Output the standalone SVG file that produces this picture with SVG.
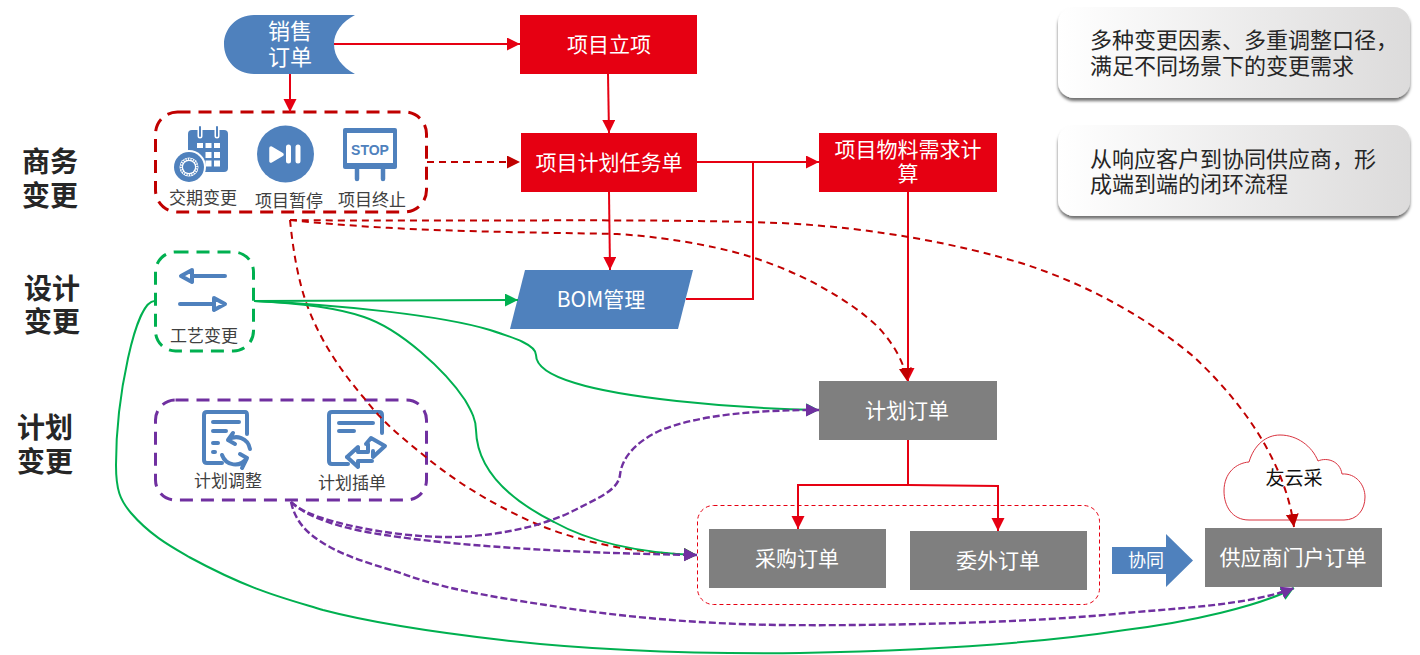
<svg xmlns="http://www.w3.org/2000/svg" width="1420" height="655" viewBox="0 0 1420 655">
<style>
text{font-family:"Noto Sans CJK SC","Noto Sans",sans-serif;text-anchor:middle}
.w{fill:#fff;font-size:21px}
.lab{fill:#404040;font-size:17px}
.side{fill:#262626;font-size:28px;font-weight:700}
.note{fill:#262626;font-size:22px;text-anchor:start}
.red{fill:#e60012}.gray{fill:#7f7f7f}.blue{fill:#4f81bd}
.ln{fill:none;stroke-width:2}
.rs{stroke:#e60012;marker-end:url(#mr)}
.rd{stroke:#c00000;stroke-dasharray:7 5;marker-end:url(#md)}
.gs{stroke:#00b050;marker-end:url(#mg)}
.pd{stroke:#7030a0;stroke-width:2.400;stroke-dasharray:7 3;marker-end:url(#mp)}
.box{fill:none;stroke-width:3;stroke-dasharray:13 8}
.ic{fill:none;stroke:#4f81bd;stroke-width:4;stroke-linecap:round;stroke-linejoin:round}
</style>
<defs>
<marker id="mr" markerUnits="userSpaceOnUse" markerWidth="14" markerHeight="14" refX="13" refY="6.500" orient="auto"><path d="M0 0L13 6.500L0 13z" fill="#e60012"/></marker>
<marker id="md" markerUnits="userSpaceOnUse" markerWidth="14" markerHeight="14" refX="13" refY="6.500" orient="auto"><path d="M0 0L13 6.500L0 13z" fill="#c00000"/></marker>
<marker id="mg" markerUnits="userSpaceOnUse" markerWidth="14" markerHeight="14" refX="13" refY="6.500" orient="auto"><path d="M0 0L13 6.500L0 13z" fill="#00b050"/></marker>
<marker id="mp" markerUnits="userSpaceOnUse" markerWidth="14" markerHeight="14" refX="13" refY="6.500" orient="auto"><path d="M0 0L13 6.500L0 13z" fill="#7030a0"/></marker>
<linearGradient id="ng"><stop offset="0" stop-color="#fff"/><stop offset="1" stop-color="#dcdbdb"/></linearGradient>
<filter id="sh" x="-5%" y="-10%" width="110%" height="125%"><feDropShadow dx="0" dy="3" stdDeviation="1.500" flood-color="#000" flood-opacity=".55"/></filter>
</defs>

<g id="sales-order"><path class="blue" d="M254 15H355C342 22 334 32 334 44C334 57 342 67 355 74H254C236 74 224 60 224 44C224 29 236 15 254 15z"/><text x="290" y="39" fill="#fff" font-size="22">销售</text><text x="290" y="65" fill="#fff" font-size="22">订单</text></g>
<g id="project-init"><rect class="red" x="520" y="15" width="177" height="59"/><text class="w" x="609" y="52">项目立项</text></g>
<g id="project-task"><rect class="red" x="521" y="133" width="176" height="59"/><text class="w" x="609" y="170">项目计划任务单</text></g>
<g id="mrp"><rect class="red" x="819" y="133" width="178" height="59"/><text class="w" x="908" y="157">项目物料需求计</text><text class="w" x="908" y="181">算</text></g>
<g id="bom"><path class="blue" d="M525 270H693L678 329H510z"/><text class="w" x="601" y="307">BOM管理</text></g>
<g id="plan-order"><rect class="gray" x="819" y="381" width="178" height="59"/><text class="w" x="907" y="418">计划订单</text></g>
<g id="purchase-group"><rect x="697.500" y="505.500" width="402" height="99" rx="16" fill="none" stroke="#e60012" stroke-dasharray="4 3"/></g>
<g id="purchase"><rect class="gray" x="709" y="529" width="177" height="59"/><text class="w" x="797" y="566">采购订单</text></g>
<g id="outsource"><rect class="gray" x="910" y="531" width="177" height="59"/><text class="w" x="998" y="568">委外订单</text></g>
<g id="supplier"><rect class="gray" x="1205" y="528" width="177" height="59"/><text class="w" x="1293" y="565">供应商门户订单</text></g>
<g id="collab"><path class="blue" d="M1112 547H1166V534L1193 560.500L1166 587V574H1112z"/><text x="1146" y="567" fill="#fff" font-size="18">协同</text></g>
<g id="cloud"><path fill="#fff" stroke="#d9333f" d="M1249 520C1232 520 1224 506 1224 491C1224 473 1236 463 1249 462C1254 445 1266 435 1280 435C1297 435 1312 446 1318 461C1327 457 1340 461 1342 474C1356 473 1365 485 1365 497C1365 510 1357 520 1344 520z"/><text x="1294" y="485" fill="#111" font-size="19">友云采</text></g>

<g id="biz-box"><rect class="box" stroke="#c00000" x="155.500" y="112" width="271" height="100" rx="22"/></g>
<g id="due-change">
<rect x="188" y="130" width="40" height="42" rx="4" fill="#4f81bd"/>
<path d="M200 127v9M217 127v9" stroke="#fff" stroke-width="5" stroke-linecap="round"/>
<path d="M200 127v9M217 127v9" stroke="#4f81bd" stroke-width="2" stroke-linecap="round"/>
<path d="M197 143h6v5h-6zM205.500 143h6v5h-6zM214 143h6v5h-6zM205.500 152h6v6h-6zM214 152h6v6h-6zM205.500 160.500h6v6h-6zM214 160.500h6v6h-6z" fill="#fff"/>
<circle cx="189" cy="167" r="17" fill="#fff"/><circle cx="189" cy="167" r="15" fill="#4f81bd"/><circle cx="189" cy="167" r="9.500" fill="#fff"/><circle cx="189" cy="167" r="8" fill="none" stroke="#4f81bd" stroke-width="1.500" stroke-dasharray="1.500 1"/><circle cx="189" cy="167" r="6" fill="#4f81bd"/>
<text class="lab" x="203" y="204">交期变更</text></g>
<g id="pause"><circle cx="285.500" cy="154" r="28.500" fill="#4f81bd"/><path d="M271 148L282 154.500L271 161z" fill="#fff" stroke="#fff" stroke-width="3.500" stroke-linejoin="round"/><path d="M288.500 147v14M298 147v14" stroke="#fff" stroke-width="5" stroke-linecap="round"/><text class="lab" x="289" y="207">项目暂停</text></g>
<g id="stop"><rect x="343" y="128" width="54" height="41" rx="2" fill="#4f81bd"/><rect x="347" y="133" width="46" height="30" fill="#fff"/><path d="M357 168v11M383 168v11" stroke="#4f81bd" stroke-width="4.500" stroke-linecap="round"/><text x="370" y="155" fill="#4f81bd" font-size="14" font-weight="700" style="font-family:'Liberation Sans',sans-serif">STOP</text><text class="lab" x="372" y="206">项目终止</text></g>

<g id="design-box"><rect class="box" stroke="#00b050" x="155.500" y="252" width="98" height="99" rx="20"/></g>
<g id="craft"><path class="ic" d="M194 276H225M192 270L181 276L192 282z"/><path class="ic" d="M180 304H212M214 298L225 304L214 310z"/><text class="lab" x="204" y="342">工艺变更</text></g>

<g id="plan-box"><rect class="box" stroke="#7030a0" x="155.500" y="400" width="271" height="100" rx="20"/></g>
<g id="plan-adjust"><path class="ic" d="M222 463H207Q204 463 204 460V415Q204 412 207 412H245Q247 412 247 415V434"/><path class="ic" stroke-width="3" d="M213 422H239M213 431H226M213 443H218M213 452H215"/><path class="ic" stroke-width="3" d="M228 440C236 434 248 438 250 449M247 458C240 468 226 466 222 455M233 433L228 440L235 444M242 468L247 458L240 454"/><text class="lab" x="228" y="487">计划调整</text></g>
<g id="plan-insert"><path class="ic" d="M348 464H332Q329 464 329 461V415Q329 412 332 412H379Q382 412 382 415V433"/><path class="ic" stroke-width="3.500" d="M339 423H373M339 431H354"/><path class="ic" stroke-width="3" d="M347 457L358 447V452H368V444H366L371 438L385 446L373 457V451"/><path class="ic" stroke-width="3" d="M347 457L358 467V461H372"/><text class="lab" x="352" y="489">计划插单</text></g>

<g id="side-labels"><text class="side" x="50" y="172">商务</text><text class="side" x="50" y="206">变更</text><text class="side" x="52" y="299">设计</text><text class="side" x="52" y="332">变更</text><text class="side" x="45" y="438">计划</text><text class="side" x="45" y="472">变更</text></g>

<g id="note1"><rect x="1058" y="7" width="352" height="91" rx="16" fill="url(#ng)" filter="url(#sh)"/><text class="note" x="1090" y="48">多种变更因素、多重调整口径&#65292;</text><text class="note" x="1090" y="74">满足不同场景下的变更需求</text></g>
<g id="note2"><rect x="1058" y="125" width="352" height="91" rx="16" fill="url(#ng)" filter="url(#sh)"/><text class="note" x="1090" y="167">从响应客户到协同供应商&#65292;形</text><text class="note" x="1090" y="192">成端到端的闭环流程</text></g>

<g id="connectors">
<path class="ln rs" d="M334 44H520"/>
<path class="ln rs" d="M290 74V112"/>
<path class="ln rs" d="M608 74L609 133"/>
<path class="ln rs" d="M609 192L610 270"/>
<path class="ln rs" d="M697 162H819"/>
<path class="ln" stroke="#e60012" d="M686 299H753V162"/>
<path class="ln rs" d="M908 192V381"/>
<path class="ln rs" d="M908 440V485H798V529"/>
<path class="ln rs" d="M908 485L998 486V531"/>
<path class="ln rd" d="M427 162H520"/>
<path class="ln rd" d="M290 220C400 232 520 232 617 234C680 238 730 250 751 257C800 272 850 300 878 327C895 345 905 365 907 381"/>
<path class="ln rd" d="M290 220C450 222 640 218 780 223C880 228 960 245 1021 263C1090 285 1150 320 1194 357C1240 400 1285 460 1294 527"/>
<path class="ln rd" d="M290 220C293 250 298 280 307 305C320 340 340 370 364 398C385 425 405 440 427 458C460 485 495 505 532 522C585 545 640 553 697 555"/>
<path class="ln gs" d="M254 301L518 300"/>
<path class="ln gs" d="M254 301C340 305 440 315 490 330C515 338 536 345 536 355C536 368 555 377 575 383C620 397 720 408 819 410"/>
<path class="ln gs" d="M254 301C300 303 335 307 364 317C400 329 445 370 465 400C472 412 476 420 476 430C477 470 510 500 554 522C590 542 640 553 697 555"/>
<path class="ln gs" d="M155 301C135 300 116 400 116 465C116 490 120 500 131 513C150 535 170 546 189 557C250 590 280 597 323 610C380 625 450 634 502 640C590 650 700 654 800 653C950 650 1060 640 1125 630C1190 622 1260 606 1294 588"/>
<path class="ln pd" d="M291 502C300 510 310 514 322 518C350 527 400 537 448 537C490 537 540 528 575 510C600 497 618 490 620 475C622 455 640 440 659 431C700 414 760 410 819 410"/>
<path class="ln pd" d="M291 502C310 520 350 530 385 535C450 545 560 553 697 555"/>
<path class="ln pd" d="M291 502C295 520 305 532 323 543C350 560 385 567 412 577C450 590 500 598 546 605C620 617 700 624 780 625C880 626 1030 623 1125 613C1180 608 1250 605 1294 588"/>
</g>
</svg>
